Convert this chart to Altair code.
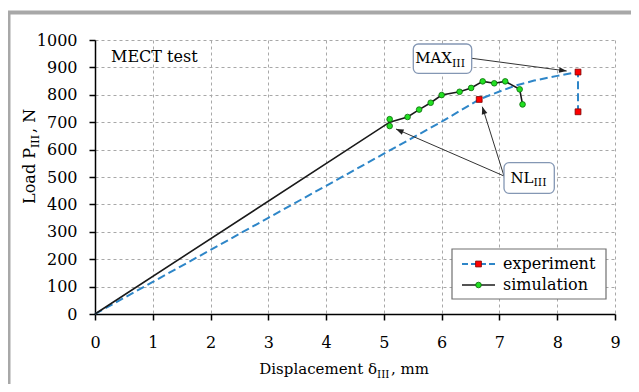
import altair as alt
import pandas as pd

FONT = "DejaVu Serif"

# ---- data ----
exp_x = [0, 1, 2, 3, 4, 5, 6, 6.65, 6.85, 7.0, 7.3, 7.6, 8.0, 8.36, 8.36]
exp_y = [0, 117, 234, 351, 468, 585, 702, 783, 800, 812, 835, 852, 869, 883, 738]
exp_mark_x = [6.65, 8.36, 8.36]
exp_mark_y = [783, 883, 738]

sim_x = [0, 5.10, 5.41, 5.61, 5.81, 6.00, 6.31, 6.51, 6.71, 6.91, 7.10, 7.35, 7.40]
sim_y = [0, 700, 719, 746, 771, 799, 811, 825, 849, 842, 849, 820, 765]
sim_mark_x = [5.10, 5.10, 5.41, 5.61, 5.81, 6.00, 6.31, 6.51, 6.71, 6.91, 7.10, 7.35, 7.40]
sim_mark_y = [711, 686, 719, 746, 771, 799, 811, 825, 849, 842, 849, 820, 765]

x_ticks = list(range(0, 10))
y_ticks = list(range(0, 1001, 100))

BLUE = "#2e86c8"
RED = "#ff0000"
GREEN = "#22e022"
BOXC = "#8497b4"

W, H = 520, 274

exp_df = pd.DataFrame({"x": exp_x, "y": exp_y, "o": range(len(exp_x))})
expm_df = pd.DataFrame({"x": exp_mark_x, "y": exp_mark_y})
sim_df = pd.DataFrame({"x": sim_x, "y": sim_y, "o": range(len(sim_x))})
simm_df = pd.DataFrame({"x": sim_mark_x, "y": sim_mark_y})
one = pd.DataFrame({"a": [0]})

xs = alt.Scale(domain=[0, 9], nice=False)
ys = alt.Scale(domain=[0, 1000], nice=False)

xaxis = alt.Axis(values=x_ticks, title=None, grid=True, labelPadding=14,
                 format="d", labelOverlap=False, labelFlush=False)
yaxis = alt.Axis(values=y_ticks, title=None, grid=True, labelPadding=12,
                 format="d", labelOverlap=False, labelFlush=False)

exp_line = alt.Chart(exp_df).mark_line(color=BLUE, strokeWidth=2, strokeDash=[8, 4]).encode(
    x=alt.X("x:Q", scale=xs, axis=xaxis),
    y=alt.Y("y:Q", scale=ys, axis=yaxis),
    order="o:Q",
)
sim_line = alt.Chart(sim_df).mark_line(color="#1a1a1a", strokeWidth=1.6).encode(
    x=alt.X("x:Q", axis=xaxis), y=alt.Y("y:Q", axis=yaxis), order="o:Q"
)
exp_pts = alt.Chart(expm_df).mark_square(size=34, fill=RED, stroke="#7a0000", strokeWidth=0.8, opacity=1).encode(
    x=alt.X("x:Q", axis=xaxis), y=alt.Y("y:Q", axis=yaxis)
)
sim_pts = alt.Chart(simm_df).mark_circle(size=32, fill=GREEN, stroke="#0a6a0a", strokeWidth=0.8, opacity=1).encode(
    x=alt.X("x:Q", axis=xaxis), y=alt.Y("y:Q", axis=yaxis)
)


def txt(t, px, py, size=16, align="left", angle=0, dy=0):
    return alt.Chart(one).mark_text(
        text=t, align=align, baseline="alphabetic", font=FONT, fontSize=size,
        angle=angle, dy=dy, color="black"
    ).encode(x=alt.value(px), y=alt.value(py))


def rule(x1, y1, x2, y2, color="#333333", width=1.0, dash=None):
    kw = dict(color=color, strokeWidth=width)
    if dash:
        kw["strokeDash"] = dash
    return alt.Chart(one).mark_rule(**kw).encode(
        x=alt.value(x1), y=alt.value(y1), x2=alt.value(x2), y2=alt.value(y2)
    )


def box(x1, y1, x2, y2, stroke=BOXC, radius=5, width=1.3):
    return alt.Chart(one).mark_rect(
        fill="white", stroke=stroke, strokeWidth=width, cornerRadius=radius
    ).encode(x=alt.value(x1), y=alt.value(y1), x2=alt.value(x2), y2=alt.value(y2))


ARROW = "M0,0L-1,-0.38L-1,0.38Z"


def head(px, py, ang):
    return alt.Chart(one).mark_point(
        shape=ARROW, filled=True, color="#222222", size=230, angle=ang, opacity=1
    ).encode(x=alt.value(px), y=alt.value(py))


layers = [
    # outer frame (page decoration)
    rule(-100, -27.5, 560, -27.5, color="#a8a8a8", width=4),
    rule(-86, -29, -86, 360, color="#a8a8a8", width=3),
    exp_line, sim_line, exp_pts, sim_pts,
    # MECT test
    txt("MECT test", 16, 22, size=16),
    # axis titles with subscripts
    txt("Displacement δ", 282, 334, size=15, align="right"),
    txt("III", 282, 338, size=10.5, align="left"),
    txt(", mm", 296, 334, size=15, align="left"),
    txt("Load P", -60, 108, size=16, align="right", angle=270),
    txt("III", -60, 108, size=11, align="left", angle=270, dy=4),
    txt(", N", -60, 93, size=16, align="left", angle=270),
    # MAX annotation
    rule(376.7, 18.3, 471.7, 31),
    head(471.7, 31, 7.6),
    box(318.3, 4, 376.7, 33.3),
    txt("MAX", 357, 23.3, size=15, align="right"),
    txt("III", 357, 26.7, size=11, align="left"),
    # NL annotation
    rule(409, 136, 301, 89),
    head(301, 89, 203.5),
    rule(409, 136, 387.3, 66.7),
    head(387.3, 66.7, 252.6),
    box(409, 122.7, 459.3, 153.3),
    txt("NL", 438.5, 142.5, size=15, align="right"),
    txt("III", 438.5, 146, size=11, align="left"),
    # legend
    box(357, 209, 511, 259, stroke="#707070", radius=0, width=1.2),
    rule(367, 224, 400, 224, color=BLUE, width=2, dash=[6, 3]),
    alt.Chart(one).mark_square(size=34, fill=RED, stroke="#7a0000", strokeWidth=0.8, opacity=1).encode(
        x=alt.value(383.5), y=alt.value(224)),
    rule(367, 245, 400, 245, color="#1a1a1a", width=1.6),
    alt.Chart(one).mark_circle(size=32, fill=GREEN, stroke="#0a6a0a", strokeWidth=0.8, opacity=1).encode(
        x=alt.value(383.5), y=alt.value(245)),
    txt("experiment", 408, 229, size=16),
    txt("simulation", 408, 250, size=16),
]

chart = alt.layer(*layers).properties(
    width=W, height=H,
    autosize=alt.AutoSizeParams(type="none"),
    padding={"left": 87, "top": 32, "right": 16, "bottom": 70},
).configure_view(stroke=None).configure_axis(
    labelFont=FONT, labelFontSize=16, labelColor="black",
    domainColor="black", domainWidth=1.5,
    tickColor="black", tickSize=6, tickWidth=1.5,
    gridColor="#a8a8a8", gridDash=[3, 3], gridWidth=1,
    labelOverlap=False,
).configure_axisY(labelOverlap=False)

chart.save("out.html", embed_options={"renderer": "svg", "actions": False})
